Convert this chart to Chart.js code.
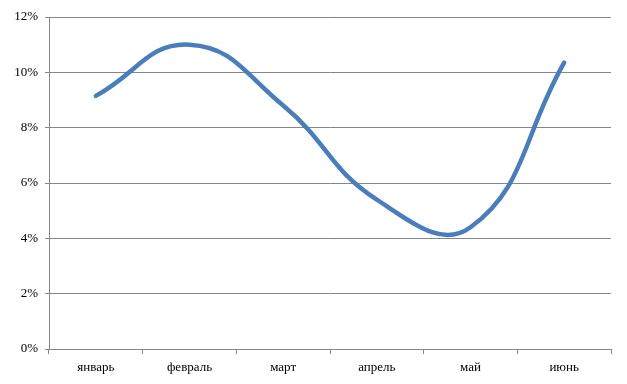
<!DOCTYPE html>
<html>
<head>
<meta charset="utf-8">
<script src="https://cdn.jsdelivr.net/npm/chart.js@4"></script>
<style>
  html, body { margin: 0; padding: 0; background: #fff; }
  #wrap { width: 627px; height: 384px; }
</style>
</head>
<body>
<div id="wrap"><canvas id="myChart"></canvas></div>
<script>
const months = ['январь', 'февраль', 'март', 'апрель', 'май', 'июнь'];
const values = [9.15, 11.0, 8.8, 5.4, 4.4, 10.35];
const yTicks = [0, 2, 4, 6, 8, 10, 12];

const gridGrey = '#868686';

const data = {
    labels: months,
    datasets: [{
        data: values,
        borderColor: '#4a7ebb',
        borderWidth: 4.5,
        borderCapStyle: 'round',
        pointRadius: 0,
        fill: false,
        tension: 0.45
    }]
};

const config = {
    type: 'line',
    data: data,
    options: {
        responsive: true,
        maintainAspectRatio: false,
        animation: false,
        layout: {
            padding: { left: 0, right: 16, top: 17, bottom: 0 }
        },
        plugins: {
            legend: { display: false },
            tooltip: { enabled: false }
        },
        scales: {
            x: {
                offset: true,
                grid: {
                    offset: true,
                    drawOnChartArea: false,
                    color: gridGrey,
                    tickLength: 5
                },
                border: { color: gridGrey, width: 1 },
                ticks: {
                    color: '#000',
                    padding: 6,
                    maxRotation: 0,
                    font: { family: 'Liberation Serif', size: 13 }
                },
                afterFit: (s) => { s.height = 35; }
            },
            y: {
                min: 0,
                max: 12,
                afterBuildTicks: (s) => { s.ticks = yTicks.map(v => ({ value: v })); },
                grid: {
                    color: gridGrey,
                    tickLength: 4
                },
                border: { color: gridGrey, width: 1 },
                ticks: {
                    color: '#000',
                    padding: 7,
                    font: { family: 'Liberation Serif', size: 13 },
                    callback: (v) => v + '%'
                },
                afterFit: (s) => { s.width = 49; }
            }
        }
    }
};

const myChart = new Chart(document.getElementById('myChart'), config);
</script>
</body>
</html>
